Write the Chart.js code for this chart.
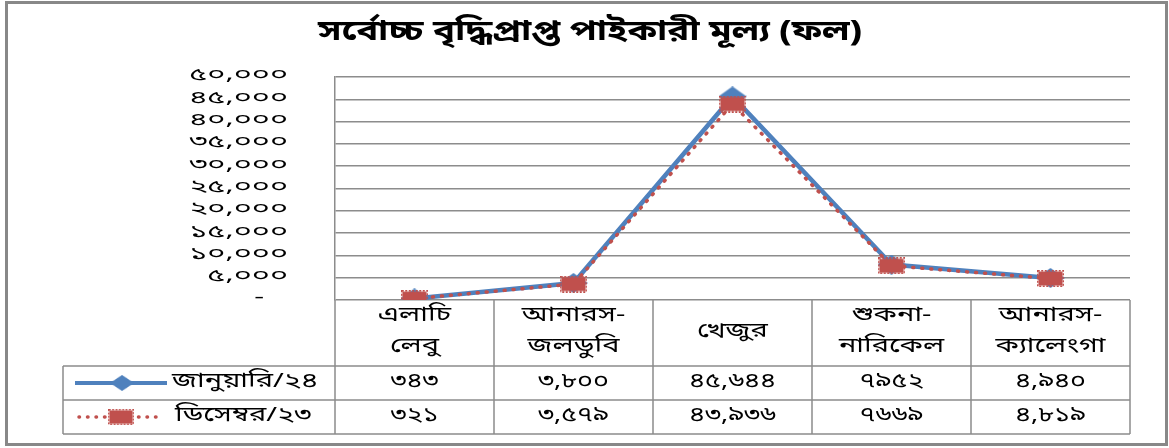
<!DOCTYPE html>
<html>
<head>
<meta charset="utf-8">
<script src="https://cdn.jsdelivr.net/npm/chart.js@4.4.1/dist/chart.umd.min.js"></script>
<style>
  html, body { margin: 0; padding: 0; background: #fff; }
  #wrap { width: 1169px; height: 448px; }
</style>
</head>
<body>
<div id="wrap"><canvas id="myCanvas" width="1169" height="448"></canvas></div>
<script>
var BN_FONT = "'Noto Sans Bengali', 'Noto Sans', sans-serif";

var chartTitle = 'সর্বোচ্চ বৃদ্ধিপ্রাপ্ত পাইকারী মূল্য (ফল)';
var fruits = [['এলাচি', 'লেবু'], ['আনারস-', 'জলডুবি'], ['খেজুর'], ['শুকনা-', 'নারিকেল'], ['আনারস-', 'ক্যালেংগা']];
var seriesNames = ['জানুয়ারি/২৪', 'ডিসেম্বর/২৩'];
var jan24 = [343, 3800, 45644, 7952, 4940];
var dec23 = [321, 3579, 43936, 7669, 4819];
// table text as printed (7952 / 7669 have no separator)
var jan24Text = ['৩৪৩', '৩,৮০০', '৪৫,৬৪৪', '৭৯৫২', '৪,৯৪০'];
var dec23Text = ['৩২১', '৩,৫৭৯', '৪৩,৯৩৬', '৭৬৬৯', '৪,৮১৯'];
var yMax = 50000;
var yStep = 5000;

var blue = '#4F81BD';
var red = '#C0504D';
var gridColor = '#8c8c8c';

// the Bengali face is narrow; text gets widened horizontally
var tickStretch = 1.7;
var cellStretch = 1.45;

function toBn(s) {
  var d = '০১২৩৪৫৬৭৮৯';
  return String(s).replace(/[0-9]/g, function (c) { return d[+c]; });
}

function wideText(ctx, text, x, y, sx) {
  ctx.save();
  ctx.translate(x, y);
  ctx.scale(sx, 1);
  ctx.fillText(text, 0, 0);
  ctx.restore();
}

// linear scale whose tick labels are drawn widened around their right edge
class BnLinear extends Chart.LinearScale {
  drawLabels(area) {
    var ctx = this.ctx;
    var ax = this.right - this.options.ticks.padding;
    ctx.save();
    ctx.translate(ax, 0);
    ctx.scale(tickStretch, 1);
    ctx.translate(-ax, 0);
    super.drawLabels(area);
    ctx.restore();
  }
}
BnLinear.id = 'bnLinear';
BnLinear.defaults = Chart.LinearScale.defaults;
Chart.register(BnLinear);

// marker images
function diamond(w, h) {
  var c = document.createElement('canvas');
  c.width = w; c.height = h;
  var g = c.getContext('2d');
  g.fillStyle = blue;
  g.beginPath();
  g.moveTo(w / 2, 0); g.lineTo(w, h / 2); g.lineTo(w / 2, h); g.lineTo(0, h / 2);
  g.closePath(); g.fill();
  return c;
}
function square(w, h) {
  var c = document.createElement('canvas');
  c.width = w; c.height = h;
  var g = c.getContext('2d');
  g.fillStyle = red;
  g.fillRect(1.5, 1.5, w - 3, h - 3);
  g.strokeStyle = red;
  g.lineWidth = 1.5;
  g.setLineDash([2, 1.5]);
  g.strokeRect(0.75, 0.75, w - 1.5, h - 1.5);
  return c;
}
var janMark = diamond(28, 20);
var decMark = square(27, 17);

var dataTable = {
  id: 'dataTable',
  beforeDraw: function (chart) {
    var ctx = chart.ctx;
    ctx.save();
    ctx.fillStyle = '#fff';
    ctx.fillRect(0, 0, chart.width, chart.height);
    ctx.restore();
  },
  afterDraw: function (chart) {
    var ctx = chart.ctx;
    var a = chart.chartArea;
    var n = fruits.length;
    var colW = (a.right - a.left) / n;
    var top = a.bottom;
    var r1 = top + 66, r2 = r1 + 34, r3 = r2 + 34;
    var legLeft = 63;

    ctx.save();

    // title
    ctx.fillStyle = '#000';
    ctx.font = 'bold 28px ' + BN_FONT;
    ctx.textAlign = 'center';
    ctx.textBaseline = 'middle';
    var tw = ctx.measureText(chartTitle).width;
    wideText(ctx, chartTitle, 590, 35, 544 / tw);

    ctx.strokeStyle = gridColor;
    ctx.lineWidth = 1.5;
    ctx.beginPath();
    [r1, r2, r3].forEach(function (y) { ctx.moveTo(legLeft, y); ctx.lineTo(a.right, y); });
    for (var i = 0; i <= n; i++) {
      var x = a.left + i * colW;
      ctx.moveTo(x, top); ctx.lineTo(x, r3);
    }
    ctx.moveTo(legLeft, r1); ctx.lineTo(legLeft, r3);
    ctx.stroke();

    ctx.font = '20px ' + BN_FONT;
    var midH = (top + r1) / 2;
    fruits.forEach(function (lines, i) {
      var cx = chart.scales.x.getPixelForValue(i);
      lines.forEach(function (t, k) {
        var y = midH + (k - (lines.length - 1) / 2) * 31;
        wideText(ctx, t, cx, y, cellStretch);
      });
      wideText(ctx, jan24Text[i], cx, (r1 + r2) / 2, 1.35);
      wideText(ctx, dec23Text[i], cx, (r2 + r3) / 2, 1.35);
    });

    // legend keys
    var y1 = (r1 + r2) / 2, y2 = (r2 + r3) / 2;
    ctx.strokeStyle = blue;
    ctx.lineWidth = 4;
    ctx.beginPath(); ctx.moveTo(75, y1); ctx.lineTo(167, y1); ctx.stroke();
    ctx.drawImage(janMark, 122 - 12, y1 - 8, 24, 16);
    ctx.strokeStyle = red;
    ctx.lineWidth = 3.5;
    ctx.lineCap = 'round';
    ctx.setLineDash([0.5, 8]);
    ctx.beginPath(); ctx.moveTo(79, y2); ctx.lineTo(163, y2); ctx.stroke();
    ctx.setLineDash([]);
    ctx.drawImage(decMark, 121 - 13, y2 - 8, 26, 16);

    ctx.textAlign = 'left';
    wideText(ctx, seriesNames[0], 172, y1, cellStretch);
    wideText(ctx, seriesNames[1], 175, y2, cellStretch);

    // outer frame
    ctx.strokeStyle = '#888';
    ctx.lineWidth = 3;
    ctx.strokeRect(6.5, 2.5, 1160, 442);
    ctx.restore();
  }
};

new Chart(document.getElementById('myCanvas').getContext('2d'), {
  type: 'line',
  data: {
    labels: fruits,
    datasets: [
      {
        label: seriesNames[0],
        data: jan24,
        borderColor: blue,
        backgroundColor: blue,
        borderWidth: 4.5,
        pointStyle: janMark,
        tension: 0,
        order: 1
      },
      {
        label: seriesNames[1],
        data: dec23,
        borderColor: red,
        backgroundColor: red,
        borderWidth: 3.5,
        borderDash: [1, 8],
        borderCapStyle: 'round',
        pointStyle: decMark,
        tension: 0,
        order: 0
      }
    ]
  },
  options: {
    responsive: false,
    animation: false,
    layout: { padding: { left: 50, right: 39, top: 77, bottom: 148 } },
    scales: {
      x: {
        display: false,
        offset: true
      },
      y: {
        type: 'bnLinear',
        min: 0,
        max: yMax,
        afterFit: function (s) { s.width = 285; },
        ticks: {
          stepSize: yStep,
          autoSkip: false,
          padding: 47,
          color: '#000',
          font: { family: BN_FONT, size: 18 },
          callback: function (v) { return v === 0 ? '-   ' : toBn(v.toLocaleString('en-US')); }
        },
        grid: { color: gridColor, lineWidth: 1.5, drawTicks: false },
        border: { color: gridColor, width: 1.5 }
      }
    },
    plugins: {
      legend: { display: false },
      tooltip: { enabled: false }
    }
  },
  plugins: [dataTable]
});
</script>
</body>
</html>
